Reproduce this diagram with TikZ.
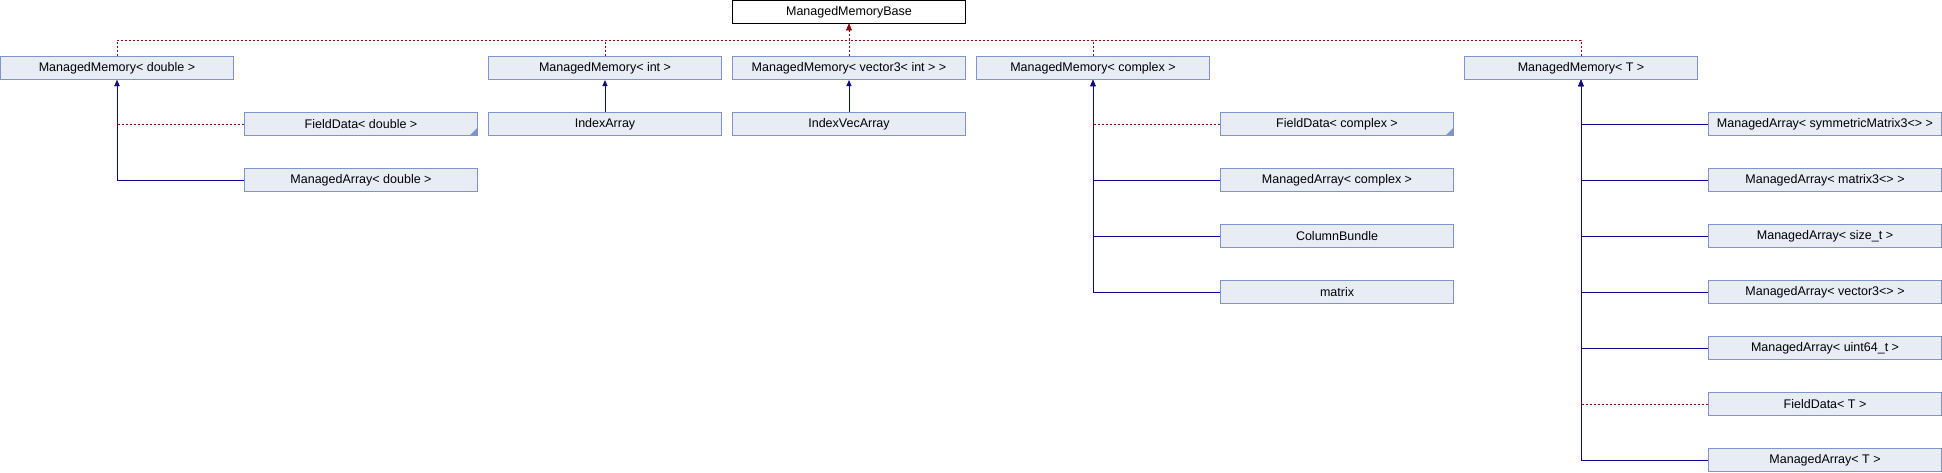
\documentclass[tikz,border=0pt]{standalone}
\usepackage{fontspec}
\setmainfont{Liberation Sans}
\usepackage{xcolor}
\definecolor{edge}{HTML}{7C95CA}
\definecolor{fillc}{HTML}{E8ECF4}
\definecolor{inhc}{HTML}{0C0C8E}
\definecolor{tmplc}{HTML}{8B0A0A}
\usetikzlibrary{arrows.meta}
\tikzset{
  >={Triangle[length=6pt,width=5pt]},
  cls/.style={draw=edge,fill=fillc,line width=1pt,minimum width=233pt,minimum height=23pt,inner sep=0pt,font=\fontsize{12.5}{14}\selectfont},
  root/.style={cls,draw=black,fill=white},
  trunc/.style={cls,path picture={\fill[edge] (path picture bounding box.south east) -- ++(-8,0) -- ++(8,-8) -- cycle;}},
  inh/.style={->,draw=inhc,line width=1pt},
  tmpl/.style={->,draw=tmplc,line width=1pt,dash pattern=on 2pt off 2pt},
}
\begin{document}
\begin{tikzpicture}[x=1pt,y=-1pt]
\useasboundingbox (0,0) rectangle (1942,472);
\node[root] (base) at (849,12) {ManagedMemoryBase};
\coordinate (bus) at (849,40);
\node[cls] (mmd) at (117,68) {ManagedMemory< double >};
\node[cls] (mmi) at (605,68) {ManagedMemory< int >};
\node[cls] (mmv) at (849,68) {ManagedMemory< vector3< int > >};
\node[cls] (mmc) at (1093,68) {ManagedMemory< complex >};
\node[cls] (mmt) at (1581,68) {ManagedMemory< T >};
\node[trunc] (fdd) at (361,124) {FieldData< double >};
\node[cls] (mad) at (361,180) {ManagedArray< double >};
\node[cls] (ia) at (605,124) {IndexArray};
\node[cls] (iva) at (849,124) {IndexVecArray};
\node[trunc] (fdc) at (1337,124) {FieldData< complex >};
\node[cls] (mac) at (1337,180) {ManagedArray< complex >};
\node[cls] (cb) at (1337,236) {ColumnBundle};
\node[cls] (mtx) at (1337,292) {matrix};
\node[cls] (masym) at (1825,124) {ManagedArray< symmetricMatrix3<> >};
\node[cls] (mam3) at (1825,180) {ManagedArray< matrix3<> >};
\node[cls] (masz) at (1825,236) {ManagedArray< size\_t >};
\node[cls] (mav3) at (1825,292) {ManagedArray< vector3<> >};
\node[cls] (mau64) at (1825,348) {ManagedArray< uint64\_t >};
\node[cls] (fdt) at (1825,404) {FieldData< T >};
\node[cls] (mat) at (1825,460) {ManagedArray< T >};
\draw[tmpl] (mmd.north) |- (bus) -- (base.south); \draw[tmpl] (mmi.north) |- (bus) -- (base.south);
\draw[tmpl] (mmv.north) -- (base.south);
\draw[tmpl] (mmc.north) |- (bus) -- (base.south); \draw[tmpl] (mmt.north) |- (bus) -- (base.south);
\draw[tmpl] (fdd.west) -| (mmd.south); \draw[tmpl] (fdc.west) -| (mmc.south); \draw[tmpl] (fdt.west) -| (mmt.south);
\draw[inh] (mad.west) -| (mmd.south);
\draw[inh] (ia.north) -- (mmi.south); \draw[inh] (iva.north) -- (mmv.south);
\draw[inh] (mac.west) -| (mmc.south); \draw[inh] (cb.west) -| (mmc.south); \draw[inh] (mtx.west) -| (mmc.south);
\draw[inh] (masym.west) -| (mmt.south); \draw[inh] (mam3.west) -| (mmt.south); \draw[inh] (masz.west) -| (mmt.south);
\draw[inh] (mav3.west) -| (mmt.south); \draw[inh] (mau64.west) -| (mmt.south); \draw[inh] (mat.west) -| (mmt.south);
\end{tikzpicture}
\end{document}
